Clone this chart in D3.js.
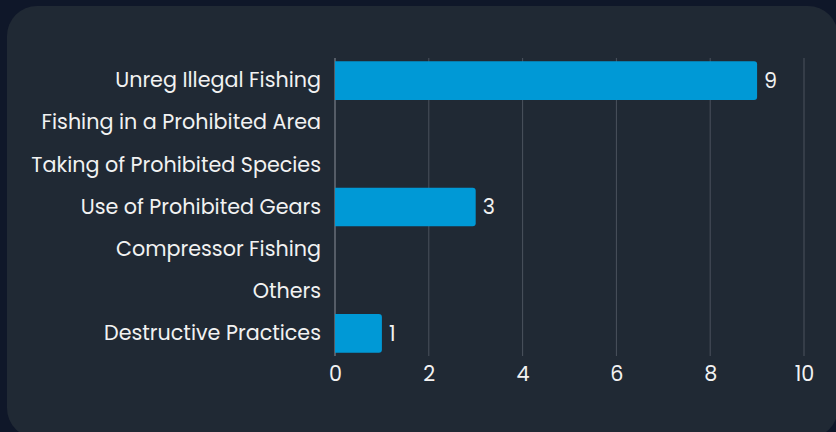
<!DOCTYPE html>
<html>
<head>
<meta charset="utf-8">
<script src="https://cdn.jsdelivr.net/npm/d3@7"></script>
<style>
  html, body { margin: 0; padding: 0; background: #0f1729; }
  svg { display: block; }
</style>
</head>
<body>
<svg id="chart" width="836" height="432"></svg>
<script>
// chart data
const categories = [
  "Unreg Illegal Fishing",
  "Fishing in a Prohibited Area",
  "Taking of Prohibited Species",
  "Use of Prohibited Gears",
  "Compressor Fishing",
  "Others",
  "Destructive Practices"
];
const counts = [9, 0, 0, 3, 0, 0, 1];
const xTicks = [0, 2, 4, 6, 8, 10];

const W = 836, H = 432;
const margin = { left: 335, right: 32, top: 58, bottom: 76 };
const width = W - margin.left - margin.right;
const height = H - margin.top - margin.bottom;
const font = "Poppins, 'Open Sans', sans-serif";
const fontSize = "20.7px";

const svg = d3.select("#chart");

// card background
svg.append("rect")
  .attr("x", 7).attr("y", 6)
  .attr("width", 831).attr("height", 432)
  .attr("rx", 30).attr("ry", 30)
  .attr("fill", "#202934");

const g = svg.append("g")
  .attr("transform", `translate(${margin.left},${margin.top})`);

const x = d3.scaleLinear().domain([0, 10]).range([0, width]);
const y = d3.scaleBand().domain(categories).range([0, height]).padding(0.08);

// gridlines
g.selectAll("line.grid")
  .data(xTicks)
  .enter().append("line")
  .attr("class", "grid")
  .attr("x1", d => x(d)).attr("x2", d => x(d))
  .attr("y1", 0).attr("y2", height)
  .attr("stroke", d => d === 0 ? "#8a9099" : "#4a525d")
  .attr("stroke-width", 1);

// bottom axis (labels only)
const xAxis = g.append("g")
  .attr("transform", `translate(0,${height})`)
  .call(d3.axisBottom(x).tickValues(xTicks).tickSize(0).tickPadding(10));
xAxis.select(".domain").remove();
xAxis.selectAll("text")
  .attr("fill", "#f2f2f2")
  .style("font-family", font)
  .style("font-size", fontSize);

// left axis (labels only)
const yAxis = g.append("g")
  .call(d3.axisLeft(y).tickSize(0).tickPadding(14));
yAxis.select(".domain").remove();
yAxis.selectAll("text")
  .attr("fill", "#f2f2f2")
  .style("font-family", font)
  .style("font-size", fontSize);

const rows = categories.map((c, i) => ({ cat: c, val: counts[i] }));

// bars with rounded right end
const r = 3;
g.selectAll("path.bar")
  .data(rows.filter(d => d.val > 0))
  .enter().append("path")
  .attr("class", "bar")
  .attr("fill", "#0099d6")
  .attr("d", d => {
    const x0 = x(0), x1 = x(d.val), y0 = y(d.cat), h = y.bandwidth();
    return `M${x0},${y0}H${x1 - r}Q${x1},${y0} ${x1},${y0 + r}V${y0 + h - r}Q${x1},${y0 + h} ${x1 - r},${y0 + h}H${x0}Z`;
  });

// value labels
g.selectAll("text.val")
  .data(rows.filter(d => d.val > 0))
  .enter().append("text")
  .attr("class", "val")
  .attr("x", d => x(d.val) + 7)
  .attr("y", d => y(d.cat) + y.bandwidth() / 2)
  .attr("dy", "0.35em")
  .attr("fill", "#f2f2f2")
  .style("font-family", font)
  .style("font-size", fontSize)
  .text(d => d.val);
</script>
</body>
</html>
